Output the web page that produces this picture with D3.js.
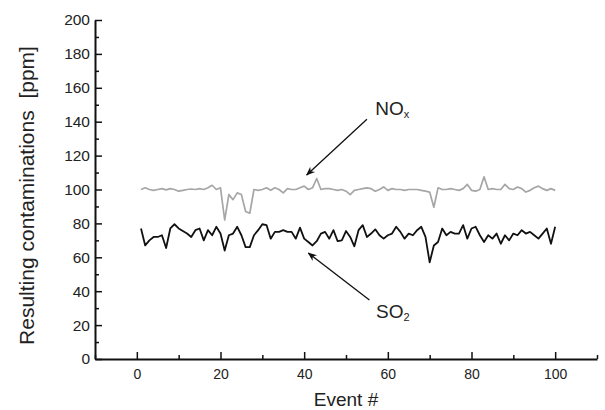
<!DOCTYPE html>
<html>
<head>
<meta charset="utf-8">
<script src="https://cdn.jsdelivr.net/npm/d3@7"></script>
<style>
  body { margin: 0; background: #fff; }
  text { font-family: "Liberation Sans", Arial, sans-serif; fill: #222; }
</style>
</head>
<body>
<div id="chart"></div>
<script>
// values, events 1..100
const so2 = [
  77, 67, 70, 72, 72, 73, 65.5, 77, 79.5, 77,
  75.5, 74, 72, 76, 77, 70, 76, 73, 78, 74,
  64, 73, 74, 78, 73, 66, 66, 73, 76, 79.5,
  79, 71, 75, 75, 76, 75, 75, 71, 77.5, 71,
  69, 67, 69.5, 74, 75, 71, 76, 69.5, 70, 75.5,
  72, 66.5, 76, 79, 72, 74, 76.5, 73, 71, 73,
  74, 78, 75, 71, 74, 73, 76, 78, 72, 57,
  67, 69, 77, 73, 75, 74, 74, 79, 71, 77,
  78, 73, 69, 73, 71, 74, 68, 73, 70, 74,
  73, 76, 74, 75, 73, 71, 74, 77, 68, 78
];
const nox = [
  100, 101, 100, 99.5, 100, 100.5, 99.8, 100.5, 100, 99,
  99.5, 100, 100.3, 100, 100.5, 100, 101, 102.5, 100, 101,
  82, 97, 94, 98, 97, 87, 86, 100, 99.5, 100,
  101, 99.5, 101, 100, 98, 100.5, 100, 100, 101, 102,
  100, 101, 106.5, 100, 100.5, 100.5, 100, 99.5, 100, 99,
  97, 99.5, 100, 100.5, 101, 100.5, 99, 100, 101.5, 99.5,
  100.5, 100, 100, 99.5, 100, 100, 100, 99.5, 99, 98.5,
  89.5, 101, 100, 100, 100.5, 100, 99.5, 100.5, 103, 99.5,
  99, 100, 107.5, 100, 100.5, 100, 100, 103, 100.5, 100,
  101.5, 100.5, 98.5, 99.5, 101, 102, 100.5, 99.5, 100.5, 99.5
];
const xTicks = [0, 20, 40, 60, 80, 100];
const yTicks = [0, 20, 40, 60, 80, 100, 120, 140, 160, 180, 200];

// annotation anchors in data units: label position, arrow tail, arrow head
const noxNote = { label: [57, 144], tail: [55, 141.4], head: [40.6, 108.6] };
const so2Note = { label: [57.2, 24], tail: [55.6, 34.8], head: [41, 62.5] };

const width = 605, height = 410;
const margin = { top: 20, right: 8, bottom: 51, left: 95 };

const svg = d3.select("#chart").append("svg")
    .attr("width", width)
    .attr("height", height);

const x = d3.scaleLinear().domain([-10, 110]).range([margin.left, width - margin.right]);
const y = d3.scaleLinear().domain([0, 200]).range([height - margin.bottom, margin.top]);

// minor ticks first, then major ticks with labels (ticks point inward)
svg.append("g")
    .attr("transform", `translate(0,${y(0)})`)
    .call(d3.axisTop(x).tickValues(d3.range(-10, 111, 10).filter(d => d % 20 !== 0)).tickSize(4).tickFormat(""))
    .call(g => g.select(".domain").remove());
svg.append("g")
    .attr("transform", `translate(${x(-10)},0)`)
    .call(d3.axisRight(y).tickValues(d3.range(10, 200, 20)).tickSize(4).tickFormat(""))
    .call(g => g.select(".domain").remove());

const xAxis = svg.append("g")
    .attr("transform", `translate(0,${y(0)})`)
    .call(d3.axisBottom(x).tickValues(xTicks).tickSizeInner(-7).tickSizeOuter(0).tickPadding(10));
const yAxis = svg.append("g")
    .attr("transform", `translate(${x(-10)},0)`)
    .call(d3.axisLeft(y).tickValues(yTicks).tickSizeInner(-7).tickSizeOuter(0).tickPadding(5));

svg.selectAll(".tick line").attr("stroke", "#111").attr("stroke-width", 1.5);
[xAxis, yAxis].forEach(a => {
  a.select(".domain").attr("stroke", "#111").attr("stroke-width", 2);
  a.selectAll(".tick text").attr("fill", "#222")
    .attr("font-family", "'Liberation Sans', Arial, sans-serif");
});
xAxis.selectAll(".tick text").attr("font-size", 14);
yAxis.selectAll(".tick text").attr("font-size", 15.5);

// axis titles
svg.append("text")
    .attr("x", x(50)).attr("y", 406)
    .attr("text-anchor", "middle")
    .attr("font-size", 19)
    .text("Event #");
svg.append("text")
    .attr("transform", `translate(34,${(y(0) + y(200)) / 2 + 6}) rotate(-90)`)
    .attr("text-anchor", "middle")
    .attr("font-size", 21)
    .attr("xml:space", "preserve")
    .text("Resulting contaminations  [ppm]");

const line = d3.line()
    .x((d, i) => x(i + 1))
    .y(d => y(d));

svg.append("path")
    .datum(nox)
    .attr("fill", "none")
    .attr("stroke", "#a6a6a6")
    .attr("stroke-width", 1.7)
    .attr("stroke-linejoin", "round")
    .attr("d", line);

svg.append("path")
    .datum(so2)
    .attr("fill", "none")
    .attr("stroke", "#111")
    .attr("stroke-width", 1.8)
    .attr("stroke-linejoin", "round")
    .attr("d", line);

// arrow marker
svg.append("defs").append("marker")
    .attr("id", "arrow")
    .attr("viewBox", "0 0 10 10")
    .attr("refX", 9).attr("refY", 5)
    .attr("markerWidth", 7).attr("markerHeight", 7)
    .attr("orient", "auto")
  .append("path")
    .attr("d", "M0,1 L10,5 L0,9 L3,5 Z")
    .attr("fill", "#111");

[noxNote, so2Note].forEach(n => {
  svg.append("line")
      .attr("x1", x(n.tail[0])).attr("y1", y(n.tail[1]))
      .attr("x2", x(n.head[0])).attr("y2", y(n.head[1]))
      .attr("stroke", "#111")
      .attr("stroke-width", 1.3)
      .attr("marker-end", "url(#arrow)");
});

const noxLabel = svg.append("text")
    .attr("x", x(noxNote.label[0])).attr("y", y(noxNote.label[1]))
    .attr("font-size", 19);
noxLabel.append("tspan").text("NO");
noxLabel.append("tspan").attr("font-size", 11).attr("dy", 3).text("x");

const so2Label = svg.append("text")
    .attr("x", x(so2Note.label[0])).attr("y", y(so2Note.label[1]))
    .attr("font-size", 19);
so2Label.append("tspan").text("SO");
so2Label.append("tspan").attr("font-size", 11).attr("dy", 3).text("2");
</script>
</body>
</html>
